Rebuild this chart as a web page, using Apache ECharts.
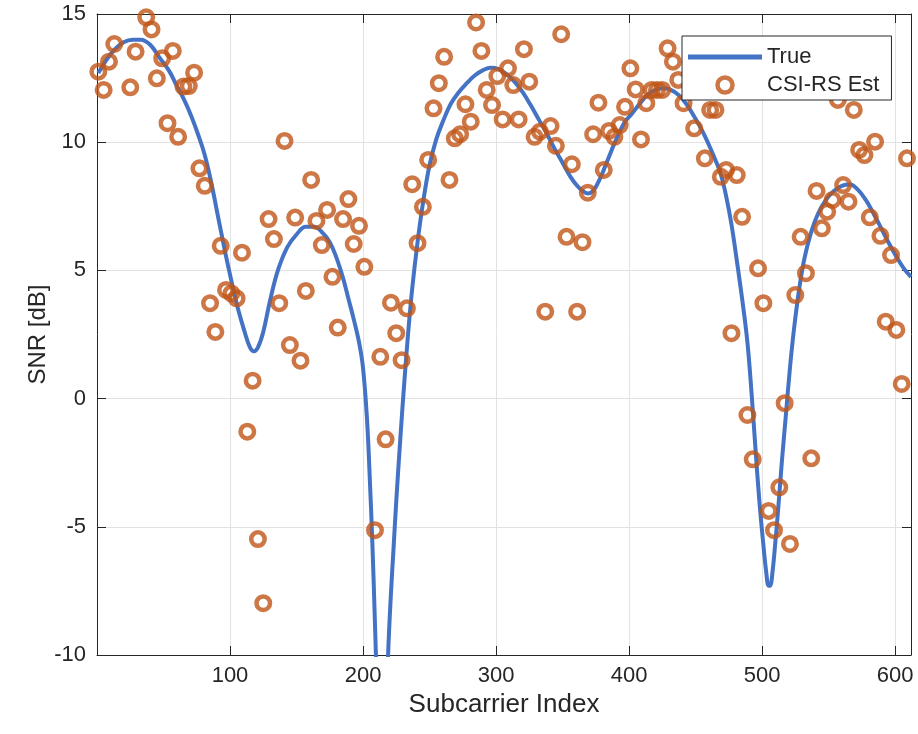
<!DOCTYPE html>
<html>
<head>
<meta charset="utf-8">
<script src="https://cdn.jsdelivr.net/npm/echarts@6/dist/echarts.min.js"></script>
<style>
html,body{margin:0;padding:0;background:#fff;}
#chart{width:918px;height:734px;}
</style>
</head>
<body>
<div id="chart"></div>
<script>
// ---- Data ----
const seriesNames = ['True', 'CSI-RS Est'];
const xTickValues = [100, 200, 300, 400, 500, 600];
const yTickValues = [-10, -5, 0, 5, 10, 15];

// "True" SNR curve (subcarrier index, dB)
const trueX = [1, 7, 13, 20, 27, 33, 40, 47, 54, 60, 66, 71, 76, 81, 86, 91, 96, 101, 106, 111, 115, 118, 121, 125, 130, 136, 143, 150, 157, 163, 169, 175, 180, 185, 189, 193, 197, 200, 203, 205, 207, 209, 211, 214, 217, 219, 221, 223, 225, 228, 231, 234, 237, 241, 245, 250, 255, 260, 266, 272, 278, 284, 290, 296, 302, 308, 314, 320, 326, 332, 338, 344, 350, 356, 361, 365, 369, 373, 377, 382, 387, 392, 397, 402, 408, 414, 420, 426, 431, 437, 443, 449, 455, 460, 465, 469, 473, 477, 481, 485, 489, 492, 495, 498, 501, 503, 505, 506, 508, 510, 512, 515, 518, 521, 524, 528, 532, 537, 542, 548, 554, 560, 566, 572, 578, 584, 590, 596, 602, 607, 612];
const trueY = [12.7, 13.2, 13.6, 13.9, 14.0, 14.0, 13.8, 13.3, 12.8, 12.2, 11.6, 11.0, 10.3, 9.5, 8.4, 7.1, 5.8, 4.6, 3.5, 2.6, 2.0, 1.85, 2.0, 2.6, 3.8, 5.0, 5.9, 6.4, 6.7, 6.7, 6.5, 6.1, 5.5, 4.7, 3.9, 3.1, 2.2, 1.2, -0.8, -3.0, -5.6, -8.8, -12.5, -20, -13, -9.8, -7.6, -5.8, -4.0, -1.6, 0.6, 2.6, 4.3, 6.1, 7.6, 9.1, 10.1, 10.8, 11.5, 11.95, 12.3, 12.6, 12.8, 12.9, 12.85, 12.65, 12.35, 11.95, 11.45, 10.9, 10.35, 9.75, 9.2, 8.65, 8.3, 8.1, 8.0, 8.1, 8.45, 9.05, 9.7, 10.3, 10.8, 11.1, 11.5, 11.85, 12.05, 12.1, 12.05, 11.85, 11.5, 11.0, 10.45, 9.9, 9.3, 8.75, 7.9, 6.8, 5.4, 3.9, 2.2, 0.3, -1.9, -4.0, -5.7, -6.7, -7.3, -7.3, -6.7, -5.6, -4.4, -2.4, -0.6, 1.2, 2.7, 4.3, 5.5, 6.5, 7.2, 7.75, 8.1, 8.3, 8.35, 8.15, 7.75, 7.2, 6.6, 6.0, 5.45, 5.05, 4.75];

// CSI-RS estimates (subcarrier index, dB)
const estX = [1, 5, 9, 13, 25, 29, 37, 41, 45, 49, 53, 57, 61, 65, 69, 73, 77, 81, 85, 89, 93, 97, 101, 105, 109, 113, 117, 121, 125, 129, 133, 137, 141, 145, 149, 153, 157, 161, 165, 169, 173, 177, 181, 185, 189, 193, 197, 201, 209, 213, 217, 221, 225, 229, 233, 237, 241, 245, 249, 253, 257, 261, 265, 269, 273, 277, 281, 285, 289, 293, 297, 301, 305, 309, 313, 317, 321, 325, 329, 333, 337, 341, 345, 349, 353, 357, 361, 365, 369, 373, 377, 381, 385, 389, 393, 397, 401, 405, 409, 413, 417, 421, 425, 429, 433, 437, 441, 449, 457, 461, 465, 469, 473, 477, 481, 485, 489, 493, 497, 501, 505, 509, 513, 517, 521, 525, 529, 533, 537, 541, 545, 549, 553, 557, 561, 565, 569, 573, 577, 581, 585, 589, 593, 597, 601, 605, 609];
const estY = [12.75, 12.04, 13.14, 13.83, 12.14, 13.53, 14.87, 14.4, 12.49, 13.27, 10.74, 13.56, 10.21, 12.17, 12.19, 12.71, 8.98, 8.3, 3.72, 2.6, 5.96, 4.24, 4.1, 3.91, 5.69, -1.29, 0.7, -5.48, -7.98, 7.0, 6.22, 3.72, 10.05, 2.09, 7.06, 1.48, 4.2, 8.53, 6.93, 5.99, 7.36, 4.75, 2.77, 7.0, 7.78, 6.03, 6.74, 5.14, -5.13, 1.63, -1.59, 3.74, 2.55, 1.5, 3.52, 8.36, 6.06, 7.48, 9.31, 11.32, 12.3, 13.33, 8.53, 10.15, 10.31, 11.48, 10.8, 14.67, 13.56, 12.04, 11.45, 12.58, 10.89, 12.88, 12.23, 10.89, 13.63, 12.36, 10.21, 10.41, 3.39, 10.63, 9.86, 14.21, 6.31, 9.14, 3.39, 6.1, 8.03, 10.31, 11.54, 8.92, 10.44, 10.21, 10.67, 11.38, 12.88, 12.06, 10.11, 11.52, 12.04, 12.04, 12.04, 13.66, 13.14, 12.43, 11.52, 10.54, 9.37, 11.26, 11.26, 8.65, 8.92, 2.55, 8.72, 7.09, -0.64, -2.37, 5.08, 3.72, -4.38, -5.13, -3.46, -0.18, -5.67, 4.04, 6.31, 4.89, -2.33, 8.1, 6.64, 7.29, 7.75, 11.65, 8.33, 7.68, 11.26, 9.7, 9.5, 7.07, 10.02, 6.35, 3.0, 5.6, 2.68, 0.57, 9.37];

// ---- Chart ----
const FONT = 'Liberation Sans';
const INK = '#262626';
const GRIDC = '#e2e2e2';
const LINEC = '#4472c4';
const DOTC = '#bf5516';

const truePairs = trueX.map((x, i) => [x, trueY[i]]);
const estPairs = estX.map((x, i) => [x, estY[i]]);

const xMin = 0, xMax = 612, yMin = yTickValues[0], yMax = yTickValues[yTickValues.length - 1];

function baseX(pos, withLabels) {
  return {
    type: 'value', position: pos, min: xMin, max: xMax, interval: 100,
    axisLine: { show: true, onZero: false, lineStyle: { color: INK, width: 1 } },
    axisTick: { show: true, inside: true, length: 9, lineStyle: { color: INK, width: 1 } },
    axisLabel: withLabels ? {
      show: true, margin: 10, color: INK, fontFamily: FONT, fontSize: 22,
      formatter: v => (xTickValues.indexOf(v) >= 0 ? String(v) : '')
    } : { show: false },
    splitLine: { show: withLabels, lineStyle: { color: GRIDC, width: 1 } }
  };
}
function baseY(pos, withLabels) {
  return {
    type: 'value', position: pos, min: yMin, max: yMax, interval: 5,
    axisLine: { show: true, onZero: false, lineStyle: { color: INK, width: 1 } },
    axisTick: { show: true, inside: true, length: 9, lineStyle: { color: INK, width: 1 } },
    axisLabel: withLabels ? { show: true, margin: 11, color: INK, fontFamily: FONT, fontSize: 22 } : { show: false },
    splitLine: { show: withLabels, lineStyle: { color: GRIDC, width: 1 } }
  };
}

const xa = baseX('bottom', true);
xa.name = 'Subcarrier Index';
xa.nameLocation = 'middle';
xa.nameGap = 37;
xa.nameMoveOverlap = false;
xa.nameTextStyle = { color: INK, fontFamily: FONT, fontSize: 26 };
const ya = baseY('left', true);
ya.name = 'SNR [dB]';
ya.nameLocation = 'middle';
ya.nameGap = 47;
ya.nameMoveOverlap = false;
ya.nameTextStyle = { color: INK, fontFamily: FONT, fontSize: 24 };

const chart = echarts.init(document.getElementById('chart'), null, { renderer: 'canvas' });
chart.setOption({
  animation: false,
  backgroundColor: '#ffffff',
  textStyle: { fontFamily: FONT, color: INK },
  grid: { left: 97, right: 7, top: 14, bottom: 79, containLabel: false },
  xAxis: [xa, baseX('top', false)],
  yAxis: [ya, baseY('right', false)],
  legend: {
    data: [
      { name: seriesNames[0], icon: 'path://M0,0L74,0L74,5L0,5Z', itemStyle: { color: LINEC } },
      { name: seriesNames[1], icon: 'circle', itemStyle: { color: 'rgba(255,255,255,0)', borderColor: DOTC, borderWidth: 4.5 } }
    ],
    orient: 'vertical',
    left: 682, top: 36,
    itemWidth: 74, itemHeight: 15, itemGap: 6,
    padding: [10, 12, 4, 6],
    backgroundColor: '#ffffff',
    borderColor: INK, borderWidth: 1, borderRadius: 0,
    textStyle: { color: INK, fontFamily: FONT, fontSize: 22 }
  },
  series: [
    {
      name: seriesNames[0], type: 'line', xAxisIndex: 0, yAxisIndex: 0,
      data: truePairs, showSymbol: false, symbol: 'none',
      smooth: 0.4, clip: true,
      lineStyle: { color: LINEC, width: 4 }, itemStyle: { color: LINEC }, z: 2
    },
    {
      name: seriesNames[1], type: 'scatter', xAxisIndex: 0, yAxisIndex: 0,
      data: estPairs, symbol: 'circle', symbolSize: 13.5, clip: true,
      itemStyle: { color: 'rgba(255,255,255,0)', borderColor: DOTC, borderWidth: 4.5 }, z: 3
    }
  ]
});
</script>
</body>
</html>
